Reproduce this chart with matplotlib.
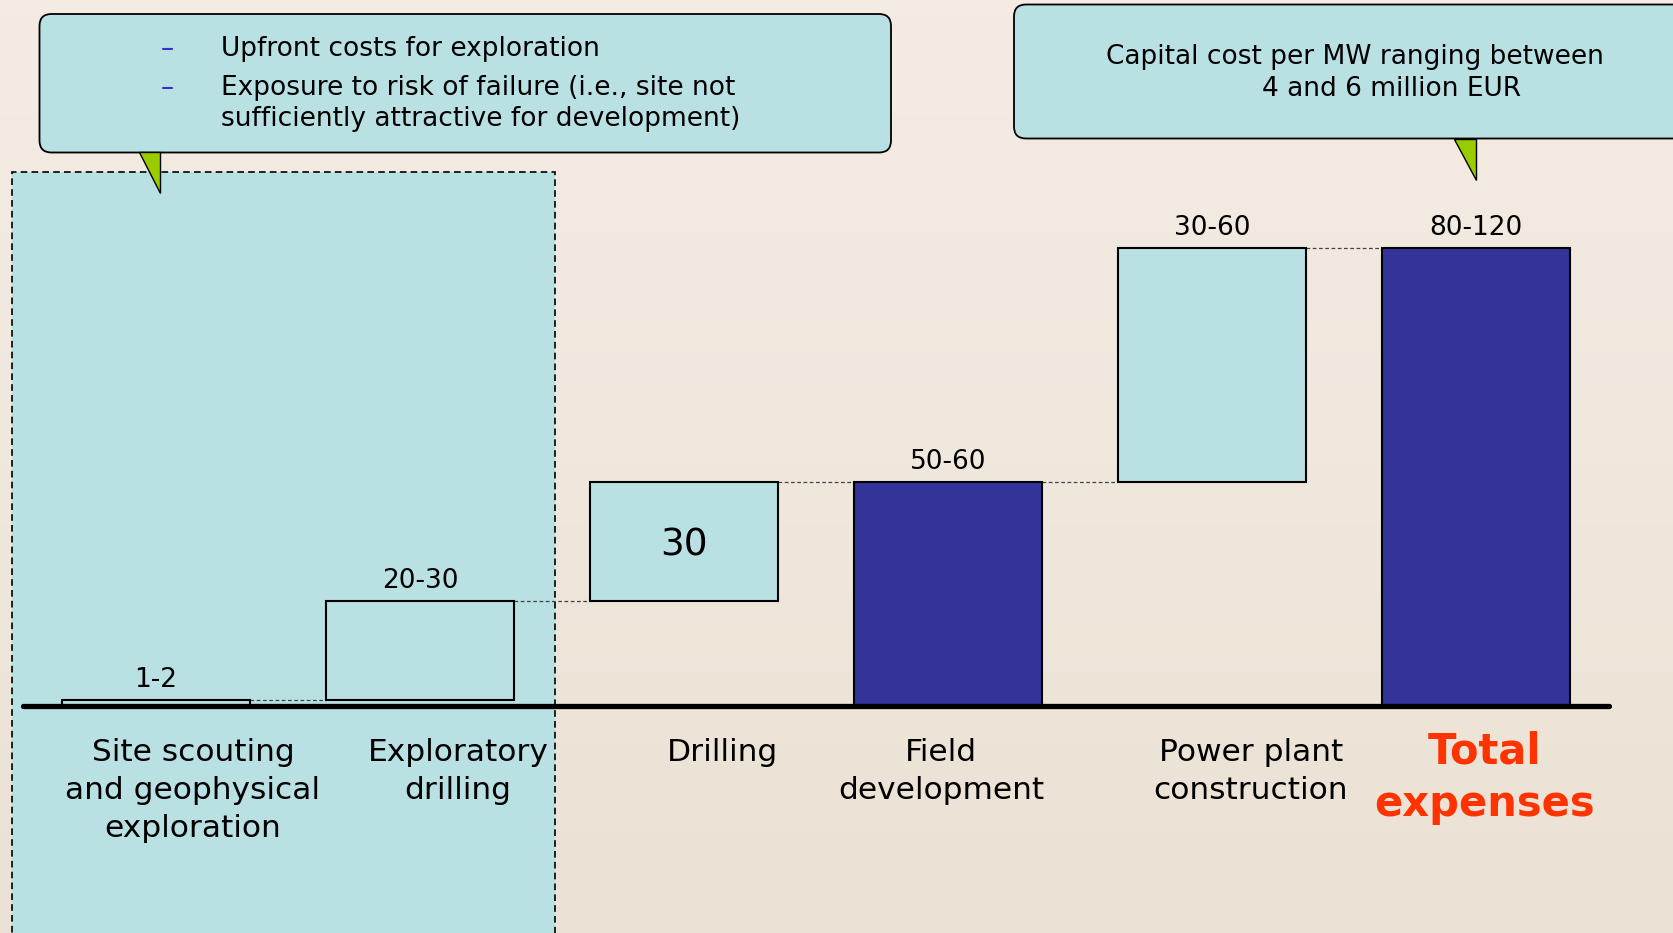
import numpy as np
import matplotlib
matplotlib.use('Agg')
import matplotlib.pyplot as plt
import matplotlib.transforms as mtransforms
from matplotlib.patches import FancyBboxPatch, Rectangle, Polygon
from matplotlib.colors import LinearSegmentedColormap

plt.rcParams['font.family'] = ['DejaVu Sans']

# data
categories = ['Site scouting\nand geophysical\nexploration', 'Exploratory\ndrilling', 'Drilling',
	'Field\ndevelopment', 'Power plant\nconstruction', 'Total\nexpenses']
steps = [1.5, 25, 30, None, 59, None]	# None = subtotal from zero
value_labels = ['1-2', '20-30', '30', '50-60', '30-60', '80-120']
note_left = ['Upfront costs for exploration',
	'Exposure to risk of failure (i.e., site not\nsufficiently attractive for development)']
note_right = ['Capital cost per MW ranging between', '4 and 6 million EUR']

W, H = 1673, 933
LIGHT = '#B9E0E3'
DARK = '#333399'
GREEN = '#99CC00'
RED = '#FF3300'
BG = '#EFE6DA'


def plot():
	fig = plt.figure(figsize=(W/100, H/100), dpi=100)
	fig.patch.set_facecolor(BG)

	# soft paper background, lighter towards the top
	bg = fig.add_axes([0, 0, 1, 1], zorder=-1)
	bg.set_axis_off()
	cmap = LinearSegmentedColormap.from_list('paper', ['#EBE1D4', '#F0E8DD', '#F4ECE3'])
	bg.imshow(np.linspace(0, 1, 64)[::-1].reshape(-1, 1), aspect='auto', cmap=cmap, extent=(0, 1, 0, 1))

	ax = fig.add_axes([0, 0, 1, 1])
	ax.set_axis_off()
	ax.patch.set_alpha(0)
	# pixel coords, origin bottom left
	px = mtransforms.Affine2D().scale(1/100.) + fig.dpi_scale_trans
	xpx = mtransforms.blended_transform_factory(ax.transData, px)

	# 264 px between bars, 3.965 px per unit, baseline 227 px from bottom
	ax.set_xlim(-156/264., (W-156)/264.)
	ax.set_ylim(-227/3.965, (H-227)/3.965)

	bottoms, heights = [], []
	level = 0
	for s in steps:
		if s is None:
			bottoms.append(0)
			heights.append(level)
		else:
			bottoms.append(level)
			heights.append(s)
			level += s
	bottoms = np.array(bottoms)
	heights = np.array(heights)
	tops = bottoms + heights
	colors = [LIGHT if s is not None else DARK for s in steps]
	x = np.arange(len(steps))
	bw = 0.712

	# exploration zone
	ax.add_patch(Rectangle((11.5, -10), 543.5, H-172+10, transform=px, facecolor=LIGHT,
		edgecolor='black', ls=(0, (4, 2.5)), lw=1.2, zorder=0.5))

	ax.bar(x, heights, width=bw, bottom=bottoms, color=colors, edgecolor='black', linewidth=1.5, zorder=3)
	for i in range(len(x)-1):
		ax.plot([x[i]+bw/2, x[i+1]-bw/2], [tops[i], tops[i]], color='#444444', lw=0.9,
			dashes=(3, 2), zorder=2)
	ax.axhline(0, xmin=23./W, xmax=1609./W, color='black', lw=3.8, solid_capstyle='round', zorder=4)

	for i, lab in enumerate(value_labels):
		if i == 2:
			ax.text(x[i], bottoms[i]+heights[i]/2, lab, ha='center', va='center_baseline', fontsize=27)
		else:
			ax.annotate(lab, (x[i], tops[i]), xytext=(0, 9.5), textcoords='offset points',
				ha='center', va='baseline', fontsize=19)

	dx = [0.14, 0.144, 0.144, -0.027, 0.147, 0.034]
	for i, lab in enumerate(categories):
		if i == len(categories)-1:
			y0, step, kw = 763, 53, dict(fontsize=30, fontweight='bold', color=RED)
		else:
			y0, step, kw = 761, 37.8, dict(fontsize=22.5, color='black')
		for j, line in enumerate(lab.split('\n')):
			ax.text(x[i]+dx[i], H-(y0+j*step), line, transform=xpx, ha='center', va='baseline', **kw)

	# callouts
	ax.add_patch(FancyBboxPatch((39.5, H-152.5), 851.5, 138.5, boxstyle='round,pad=0,rounding_size=12',
		transform=px, facecolor=LIGHT, edgecolor='black', lw=1.3, zorder=5))
	ax.add_patch(Polygon([(139, H-152), (160, H-152), (160, H-193)], closed=True, transform=px,
		facecolor=GREEN, edgecolor='black', lw=1, zorder=5.5))
	ax.add_patch(FancyBboxPatch((1014, H-138.5), 700, 134, boxstyle='round,pad=0,rounding_size=12',
		transform=px, facecolor=LIGHT, edgecolor='black', lw=1.3, zorder=5, clip_on=False))
	ax.add_patch(Polygon([(1454, H-138.5), (1476, H-138.5), (1476, H-180)], closed=True, transform=px,
		facecolor=GREEN, edgecolor='black', lw=1, zorder=5.5))

	yb = [[56], [95, 126]]
	for item, ys in zip(note_left, yb):
		ax.text(167, H-ys[0], '\u2013', transform=px, ha='center', va='baseline', fontsize=19,
			color='#3333CC', zorder=6)
		for line, y in zip(item.split('\n'), ys):
			ax.text(221, H-y, line, transform=px, ha='left', va='baseline', fontsize=19, zorder=6)
	ax.text(1355, H-64, note_right[0], transform=px, ha='center', va='baseline', fontsize=19, zorder=6)
	ax.text(1391.5, H-95.5, note_right[1], transform=px, ha='center', va='baseline', fontsize=19, zorder=6)

	fig.savefig('out.png', dpi=100, facecolor=BG)


if __name__ == "__main__":
	plot()
